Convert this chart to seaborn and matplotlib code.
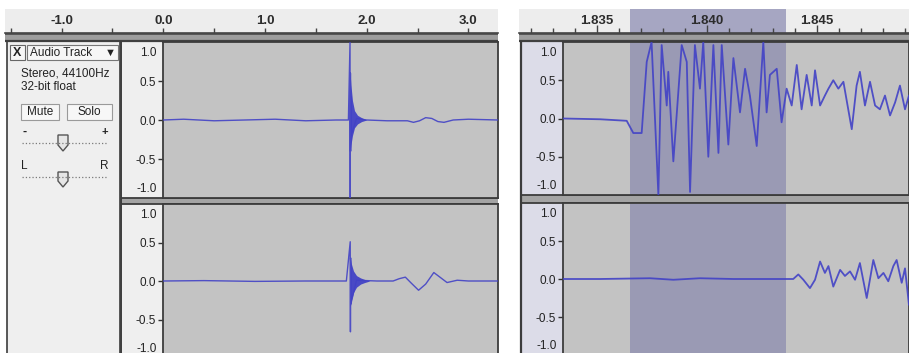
import matplotlib
matplotlib.use("Agg")
import matplotlib.pyplot as plt
import matplotlib.patches as mpatches
from matplotlib import transforms
from matplotlib.ticker import MultipleLocator
import seaborn as sns

# ---------------- data ----------------
ov_ticks = [-1.0, 0.0, 1.0, 2.0, 3.0]
ov_labels = ["-1.0", "0.0", "1.0", "2.0", "3.0"]
zm_ticks = [1.835, 1.840, 1.845]
zm_labels = ["1.835", "1.840", "1.845"]
amp_ticks = [0.5, 0.0, -0.5]
amp_labels = ["0.5", "0.0", "-0.5"]
amp_end_labels = ["1.0", "-1.0"]
selection = [1.8365, 1.8436]

track_name = "Audio Track"
track_info = ["Stereo, 44100Hz", "32-bit float"]
track_buttons = ["Mute", "Solo"]

# overview, channel 1 (left)
ov1_t = [0.0, 0.2, 0.5, 0.8, 1.1, 1.4, 1.7, 1.82, 1.836, 1.838, 1.840, 1.842,
         1.844, 1.846, 1.9, 2.0, 2.2, 2.4, 2.46, 2.52, 2.58, 2.64, 2.7, 2.76, 2.85, 3.0, 3.29]
ov1_a = [0.0, 0.01, -0.01, 0.0, 0.01, -0.01, 0.0, 0.0, 1.0, -1.0, 0.6, -0.4,
         0.3, -0.2, 0.02, 0.0, -0.01, -0.01, -0.03, -0.01, 0.03, 0.02, -0.02, -0.03, 0.0, 0.01, 0.0]
ov1_env_t = [1.836, 1.845, 1.86, 1.88, 1.91, 1.95, 2.0]
ov1_env_hi = [0.62, 0.45, 0.25, 0.12, 0.06, 0.03, 0.0]
ov1_env_lo = [-0.40, -0.32, -0.2, -0.1, -0.05, -0.02, 0.0]

# overview, channel 2 (right)
ov2_t = [0.0, 0.4, 0.9, 1.4, 1.8, 1.838, 1.840, 1.842, 1.844, 1.9, 2.1, 2.26,
         2.32, 2.38, 2.44, 2.51, 2.58, 2.66, 2.72, 2.79, 2.89, 3.0, 3.29]
ov2_a = [0.0, 0.005, -0.005, 0.0, 0.0, 0.51, -0.66, 0.3, -0.3, 0.01, 0.0, 0.0,
         0.03, 0.05, -0.03, -0.12, -0.04, 0.11, 0.05, -0.02, 0.01, 0.0, 0.0]
ov2_env_t = [1.838, 1.85, 1.87, 1.9, 1.94, 1.98, 2.03]
ov2_env_hi = [0.3, 0.22, 0.13, 0.07, 0.04, 0.02, 0.0]
ov2_env_lo = [-0.34, -0.25, -0.15, -0.08, -0.04, -0.02, 0.0]

# zoomed, channel 1
zm1_t = [1.83347, 1.83514, 1.83635, 1.83665, 1.83703, 1.83726, 1.83748, 1.83779, 1.83794, 1.83817,
         1.83824, 1.83847, 1.83885, 1.83908, 1.83923, 1.83945, 1.83968, 1.83983, 1.84006, 1.84029,
         1.84052, 1.84067, 1.84097, 1.84120, 1.84150, 1.84173, 1.84195, 1.84226, 1.84256, 1.84271,
         1.84286, 1.84317, 1.84339, 1.84362, 1.84385, 1.84408, 1.84430, 1.84453, 1.84476, 1.84491,
         1.84514, 1.84536, 1.84552, 1.84574, 1.84597, 1.84620, 1.84642, 1.84658, 1.84680, 1.84695,
         1.84718, 1.84741, 1.84764, 1.84786, 1.84809, 1.84832, 1.84855, 1.84877, 1.84900, 1.84918]
zm1_a = [0.0, -0.01, -0.03, -0.19, -0.19, 0.74, 1.0, -1.0, 0.96, 0.17,
         0.61, -0.56, 0.96, 0.74, -0.96, 0.96, 0.39, 1.0, -0.50, 0.96,
         -0.45, 0.96, -0.34, 0.79, 0.08, 0.65, 0.30, -0.36, 1.0, 0.08,
         0.57, 0.65, -0.05, 0.39, 0.17, 0.70, 0.12, 0.57, 0.17, 0.63,
         0.17, 0.30, 0.39, 0.50, 0.39, 0.48, 0.12, -0.14, 0.43, 0.61,
         0.17, 0.48, 0.17, 0.12, 0.30, 0.04, 0.21, 0.43, 0.12, 0.30]

# zoomed, channel 2
zm2_t = [1.83347, 1.83514, 1.83741, 1.83847, 1.83968, 1.84120, 1.84271, 1.84362, 1.84392, 1.84415,
         1.84438, 1.84468, 1.84491, 1.84514, 1.84536, 1.84552, 1.84574, 1.84605, 1.84627, 1.84650,
         1.84673, 1.84695, 1.84726, 1.84756, 1.84779, 1.84802, 1.84824, 1.84847, 1.84862, 1.84885,
         1.84900, 1.84918]
zm2_a = [0.0, 0.0, 0.01, -0.01, 0.01, 0.0, 0.0, 0.0, 0.0, 0.06,
         -0.01, -0.12, -0.01, 0.23, 0.08, 0.17, -0.10, 0.12, 0.04, 0.10,
         -0.01, 0.21, -0.25, 0.25, 0.01, 0.08, -0.03, 0.17, 0.25, -0.05,
         0.14, -0.34]

# ---------------- style ----------------
sns.set_theme(style="white")
plt.rcParams['font.family'] = ['Liberation Sans', 'DejaVu Sans']

W, H = 909, 353
WAVE = '#4242c6'
TRACK_BG = '#c3c3c3'
SEL_BG = '#9a9ab4'
DARK = '#3c3c3c'
TXT = '#222222'

fig = plt.figure(figsize=(W / 100, H / 100), dpi=100)
fig.patch.set_facecolor('white')

# pixel-coordinate background layer
bg = fig.add_axes([0, 0, 1, 1], zorder=-1)
bg.set_xlim(0, W)
bg.set_ylim(H, 0)
bg.axis('off')


def px_axes(x0, y0, x1, y1, z=1):
    return fig.add_axes([x0 / W, 1 - y1 / H, (x1 - x0) / W, (y1 - y0) / H], zorder=z)


def rect(x0, y0, x1, y1, fc, ec='none', lw=0.0):
    bg.add_patch(mpatches.Rectangle((x0, y0), x1 - x0, y1 - y0, facecolor=fc,
                                    edgecolor=ec, linewidth=lw))


def hline(y, x0, x1, c=DARK, lw=1.2, ls='-'):
    bg.plot([x0, x1], [y, y], color=c, lw=lw, ls=ls, solid_capstyle='butt')


def vline(x, y0, y1, c=DARK, lw=1.2):
    bg.plot([x, x], [y0, y1], color=c, lw=lw, solid_capstyle='butt')


def ruler(x0, x1, tlo, thi, ticks, labels, minor, major_len, minor_len, sel=None):
    ax = px_axes(x0, 9, x1, 33)
    ax.set_facecolor('#ededed')
    ax.set_axisbelow(False)
    if sel is not None:
        ax.axvspan(sel[0], sel[1], color='#a6a6c2', lw=0, zorder=0.2)
    ax.set_xlim(tlo, thi)
    ax.set_ylim(0, 1)
    ax.set_yticks([])
    ax.set_xticks(ticks)
    ax.set_xticklabels(labels, fontweight='bold', fontsize=9.5, color='#2c2c2c')
    ax.xaxis.set_minor_locator(MultipleLocator(minor))
    ax.tick_params(axis='x', which='major', direction='in', length=major_len, width=1,
                   color='#444444', bottom=True, top=False, pad=-13)
    ax.tick_params(axis='x', which='minor', direction='in', length=minor_len, width=1,
                   color='#444444', bottom=True, top=False)
    for s in ['top', 'left', 'right']:
        ax.spines[s].set_visible(False)
    ax.spines['bottom'].set_color('#444444')
    ax.spines['bottom'].set_linewidth(1.2)
    # dark band under ruler
    rect(x0, 33, x1, 41, '#9d9d9d')
    hline(33.5, x0, x1, '#4a4a4a', 1.2)
    hline(40.5, x0, x1, '#404040', 1.6)
    return ax


def channel(x0, y0, x1, y1, tlo, thi, t, a, env=None, sel=None, lw=1.0):
    ax = px_axes(x0, y0, x1, y1, z=2)
    ax.set_facecolor(TRACK_BG)
    if sel is not None:
        ax.axvspan(sel[0], sel[1], color=SEL_BG, lw=0, zorder=0)
    if env is not None:
        ax.fill_between(env[0], env[2], env[1], color=WAVE, lw=0, alpha=0.95, zorder=2)
    sns.lineplot(x=t, y=a, ax=ax, color=WAVE, linewidth=lw, estimator=None,
                 sort=False, legend=False, zorder=3, alpha=0.9)
    ax.set_xlim(tlo, thi)
    ax.set_ylim(-1, 1)
    ax.set_xticks([])
    ax.set_xlabel('')
    ax.set_ylabel('')
    ax.set_yticks(amp_ticks)
    ax.set_yticklabels(amp_labels)
    ax.tick_params(axis='y', direction='out', length=3.5, width=1, color='#333333',
                   labelsize=8.5, labelcolor=TXT, pad=1.5, left=True)
    tr = transforms.offset_copy(ax.get_yaxis_transform(), fig=fig, x=-6.5, y=0, units='dots')
    ax.text(0, 0.86, amp_end_labels[0], transform=tr, ha='right', va='center',
            fontsize=8.5, color=TXT, clip_on=False)
    ax.text(0, -0.88, amp_end_labels[1], transform=tr, ha='right', va='center',
            fontsize=8.5, color=TXT, clip_on=False)
    for s in ax.spines.values():
        s.set_color(DARK)
        s.set_linewidth(1.3)
    return ax


# ---------------- left: overview ----------------
ov_x0, ov_x1 = 163.3, 498.0
ov_scale = 101.7  # px per second
ov_tlo = 0.0
ov_thi = (ov_x1 - ov_x0) / ov_scale
ruler(5, ov_x1, (5 - ov_x0) / ov_scale, ov_thi, ov_ticks, ov_labels, 0.5, 3.5, 3.5)

# track control panel and vertical ruler backgrounds
rect(7, 41, 120, 360, '#efefef', DARK, 1.2)
rect(120, 41, ov_x0, 360, '#efefef')
vline(121, 41, 360, DARK, 1.4)
# channel separator
rect(121, 198, ov_x1, 204, '#a4a4a4')
hline(198.3, 121, ov_x1, DARK, 1.3)
hline(203.6, 121, ov_x1, DARK, 1.3)

channel(ov_x0, 42, ov_x1, 198, ov_tlo, ov_thi, ov1_t, ov1_a,
        env=(ov1_env_t, ov1_env_hi, ov1_env_lo), lw=1.0)
channel(ov_x0, 204, ov_x1, 358, ov_tlo, ov_thi, ov2_t, ov2_a,
        env=(ov2_env_t, ov2_env_hi, ov2_env_lo), lw=1.0)

# control panel widgets
ui = dict(color=TXT, fontsize=8.5)
rect(10, 45, 25, 60, '#f6f6f6', '#666666', 0.8)
bg.text(17.5, 52.8, "X", ha='center', va='center', fontweight='bold', color=TXT, fontsize=9)
rect(27, 45, 118, 60, '#f6f6f6', '#777777', 0.8)
bg.text(30, 52.8, track_name, ha='left', va='center', **ui)
bg.text(110, 52.8, "\u25BC", ha='center', va='center', color=TXT, fontsize=8)
bg.text(21, 73, track_info[0], ha='left', va='center', **ui)
bg.text(21, 87, track_info[1], ha='left', va='center', **ui)
rect(21, 104, 59, 120, '#f7f7f7', '#9a9a9a', 0.8)
rect(67, 104, 112, 120, '#f7f7f7', '#9a9a9a', 0.8)
bg.text(40, 112, track_buttons[0], ha='center', va='center', **ui)
bg.text(89.5, 112, track_buttons[1], ha='center', va='center', **ui)
# gain slider
hline(143, 22, 107, '#7a7a7a', 0.9, ':')
bg.text(25, 132, "-", ha='center', va='center', color=TXT, fontsize=9, fontweight='bold')
bg.text(105, 132, "+", ha='center', va='center', color=TXT, fontsize=8, fontweight='bold')
bg.add_patch(mpatches.Polygon([(58, 135), (68, 135), (68, 145), (63, 151), (58, 145)],
                              closed=True, facecolor='#e6e6e6', edgecolor='#555555', lw=1))
# pan slider
hline(177, 22, 107, '#7a7a7a', 0.9, ':')
bg.text(24, 166, "L", ha='center', va='center', **ui)
bg.text(104, 166, "R", ha='center', va='center', **ui)
bg.add_patch(mpatches.Polygon([(58, 172), (68, 172), (68, 181), (63, 187), (58, 181)],
                              closed=True, facecolor='#e6e6e6', edgecolor='#555555', lw=1))

# ---------------- right: zoomed view ----------------
zm_x0, zm_x1 = 563.0, 909.0
zm_scale = 22000.0  # px per second
zm_ref_x = 597.0    # pixel of t = 1.835


def zm_t(x):
    return 1.835 + (x - zm_ref_x) / zm_scale


ruler(519, zm_x1, zm_t(519), zm_t(zm_x1), zm_ticks, zm_labels, 0.001, 6, 3.5, sel=selection)
rect(520, 41, zm_x0, 360, '#dcdce8')
vline(521, 41, 360, DARK, 1.6)
rect(521, 195, zm_x1, 203, '#a4a4a4')
hline(195.3, 521, zm_x1, DARK, 1.3)
hline(202.6, 521, zm_x1, DARK, 1.3)

channel(zm_x0, 42, zm_x1, 195, zm_t(zm_x0), zm_t(zm_x1), zm1_t, zm1_a, sel=selection, lw=1.3)
channel(zm_x0, 203, zm_x1, 355, zm_t(zm_x0), zm_t(zm_x1), zm2_t, zm2_a, sel=selection, lw=1.3)

fig.savefig("out.png", dpi=100, facecolor='white')
